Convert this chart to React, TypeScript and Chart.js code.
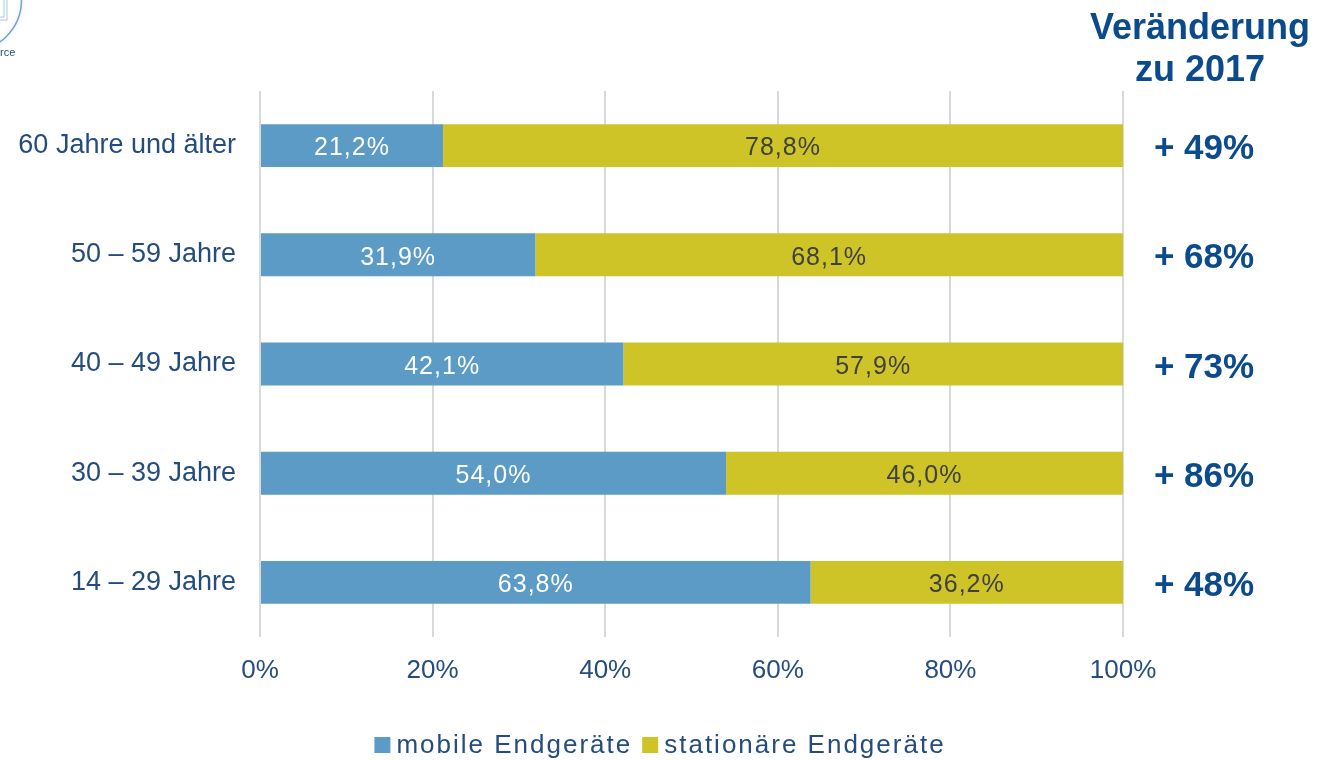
import React, { useEffect, useRef } from "react";
import { Chart, registerables } from "chart.js";

Chart.register(...registerables);

const categories = ["60 Jahre und älter", "50 – 59 Jahre", "40 – 49 Jahre", "30 – 39 Jahre", "14 – 29 Jahre"];
const mobileValues = [21.2, 31.9, 42.1, 54.0, 63.8];
const stationaryValues = [78.8, 68.1, 57.9, 46.0, 36.2];
const changeLabels = ["+ 49%", "+ 68%", "+ 73%", "+ 86%", "+ 48%"];
const seriesNames = ["mobile Endgeräte", "stationäre Endgeräte"];
const headerLines = ["Veränderung", "zu 2017"];
const xTicks = [0, 20, 40, 60, 80, 100];

const BLUE = "#5B9BC5";
const YELLOW = "#CEC427";
const TEXT_BLUE = "#244C7E";
const DARK_BLUE = "#0B4A8C";
const FONT = "'Liberation Sans', Arial, sans-serif";

const fmt = (v: number) => v.toFixed(1).replace(".", ",") + "%";

const overlayPlugin = {
  id: "overlay",
  afterDatasetsDraw(chart: any) {
    const ctx = chart.ctx;
    chart.data.datasets.forEach((ds: any, di: number) => {
      const meta = chart.getDatasetMeta(di);
      meta.data.forEach((bar: any, i: number) => {
        const cx = (bar.x + bar.base) / 2;
        ctx.save();
        ctx.font = `25px ${FONT}`;
        (ctx as any).letterSpacing = "1px";
        ctx.fillStyle = di === 0 ? "#FFFFFF" : "#404040";
        ctx.textAlign = "center";
        ctx.textBaseline = "middle";
        ctx.fillText(fmt(ds.data[i]), cx, bar.y + 3);
        ctx.restore();
      });
    });
  },
  afterDraw(chart: any) {
    const ctx = chart.ctx;
    const y = chart.scales.y;
    ctx.save();
    ctx.fillStyle = DARK_BLUE;
    ctx.textAlign = "center";
    ctx.textBaseline = "middle";
    ctx.font = `bold 35px ${FONT}`;
    changeLabels.forEach((t, i) => {
      ctx.fillText(t, 1204, y.getPixelForValue(i) + 4);
    });
    ctx.font = `bold 36px ${FONT}`;
    ctx.fillText(headerLines[0], 1200, 29);
    ctx.fillText(headerLines[1], 1200, 71);
    // legend
    ctx.font = `26px ${FONT}`;
    (ctx as any).letterSpacing = "2px";
    ctx.textAlign = "left";
    const box = 16;
    const gap = 6;
    const sep = 10;
    const colors = [BLUE, YELLOW];
    const widths = seriesNames.map((n) => ctx.measureText(n).width);
    const total = widths.reduce((a, b) => a + b, 0) + 2 * (box + gap) + sep;
    let x = 660 - total / 2;
    const ly = 745;
    seriesNames.forEach((n, i) => {
      ctx.fillStyle = colors[i];
      ctx.fillRect(x, ly - box / 2, box, box);
      x += box + gap;
      ctx.fillStyle = TEXT_BLUE;
      ctx.fillText(n, x, ly + 1);
      x += widths[i] + sep;
    });
    (ctx as any).letterSpacing = "0px";
    // logo fragment
    ctx.shadowColor = "rgba(0,0,0,0.15)";
    ctx.shadowBlur = 4;
    ctx.strokeStyle = "#6FA3D0";
    ctx.lineWidth = 1.5;
    ctx.beginPath();
    ctx.arc(-30, 0, 51.5, 0, Math.PI / 2);
    ctx.stroke();
    ctx.shadowBlur = 0;
    ctx.shadowColor = "transparent";
    ctx.strokeStyle = "#A9C7E2";
    ctx.lineWidth = 1;
    ctx.strokeRect(-10, -5, 17, 25);
    ctx.strokeRect(-10, -5, 14, 22);
    ctx.fillStyle = TEXT_BLUE;
    ctx.font = `11px ${FONT}`;
    ctx.fillText("rce", 0, 53);
    ctx.restore();
  },
};

export default function App() {
  const ref = useRef<HTMLCanvasElement>(null);
  useEffect(() => {
    document.body.style.margin = "0";
    const chart = new Chart(ref.current!, {
      type: "bar",
      data: {
        labels: categories,
        datasets: [
          { label: seriesNames[0], data: mobileValues, backgroundColor: BLUE, barPercentage: 0.393, categoryPercentage: 1 },
          { label: seriesNames[1], data: stationaryValues, backgroundColor: YELLOW, barPercentage: 0.393, categoryPercentage: 1 },
        ],
      },
      options: {
        indexAxis: "y",
        animation: false,
        responsive: false,
        maintainAspectRatio: false,
        layout: { padding: { top: 91, left: 0, right: 194, bottom: 43 } },
        plugins: { legend: { display: false }, tooltip: { enabled: false }, title: { display: false } },
        scales: {
          x: {
            stacked: true,
            min: 0,
            max: 100,
            afterBuildTicks: (s: any) => {
              s.ticks = xTicks.map((v) => ({ value: v }));
            },
            afterFit: (s: any) => {
              s.height = 80;
            },
            grid: { color: "#D9D9D9", lineWidth: 2, drawTicks: false },
            border: { display: false },
            ticks: {
              padding: 18,
              color: TEXT_BLUE,
              font: { family: FONT, size: 26 },
              callback: (v: any) => v + "%",
            },
          },
          y: {
            stacked: true,
            afterFit: (s: any) => {
              s.width = 260;
            },
            grid: { display: false },
            border: { display: false },
            ticks: {
              padding: 16,
              color: TEXT_BLUE,
              font: { family: FONT, size: 27 },
            },
          },
        },
      },
      plugins: [overlayPlugin],
    });
    return () => chart.destroy();
  }, []);
  return (
    <div style={{ position: "absolute", left: 0, top: 0, width: 1317, height: 760 }}>
      <canvas ref={ref} width={1317} height={760} style={{ width: 1317, height: 760 }} />
    </div>
  );
}
